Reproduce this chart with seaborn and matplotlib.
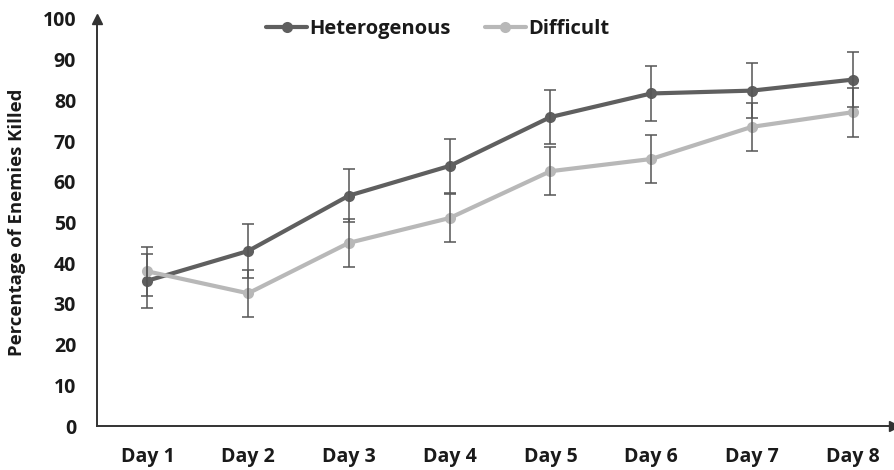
import matplotlib
matplotlib.use("Agg")
import matplotlib.pyplot as plt
import numpy as np
import pandas as pd
import seaborn as sns


days = ["Day 1", "Day 2", "Day 3", "Day 4", "Day 5", "Day 6", "Day 7", "Day 8"]
hetero = [35.7, 43.0, 56.6, 63.9, 75.9, 81.7, 82.4, 85.1]
hetero_err = [6.6, 6.6, 6.6, 6.6, 6.7, 6.7, 6.7, 6.7]
difficult = [38.0, 32.6, 45.0, 51.1, 62.6, 65.6, 73.5, 77.1]
difficult_err = [6.0, 5.8, 5.9, 5.9, 5.9, 5.8, 5.9, 6.0]
series_names = ["Heterogenous", "Difficult"]
colors = {"Heterogenous": "#5f5f5f", "Difficult": "#b8b8b8"}


def main():
    pos = np.arange(len(days))
    df = pd.concat([
        pd.DataFrame({"pos": pos, "value": hetero, "err": hetero_err, "group": series_names[0]}),
        pd.DataFrame({"pos": pos, "value": difficult, "err": difficult_err, "group": series_names[1]}),
    ])

    sns.set_theme(style="white")
    plt.rcParams["font.family"] = ["Open Sans", "DejaVu Sans"]
    plt.rcParams["font.weight"] = "bold"

    fig = plt.figure(figsize=(8.94, 4.70), dpi=100)
    ax = fig.add_axes([0.1085, 0.0936, 0.8915, 0.866])

    sns.lineplot(
        data=df, x="pos", y="value", hue="group", hue_order=series_names,
        palette=colors, marker="o", markersize=8, markeredgewidth=0,
        linewidth=3, ax=ax, errorbar=None,
    )
    for name in series_names:
        sub = df[df["group"] == name]
        ax.errorbar(sub["pos"], sub["value"], yerr=sub["err"], fmt="none",
                    ecolor="#555555", elinewidth=1.1, capsize=4, capthick=1.1, zorder=5)

    ax.set_xlim(-0.5, 7.41)
    ax.set_ylim(0, 100)
    ax.set_xticks(pos)
    ax.set_xticklabels(days)
    ax.set_yticks(range(0, 101, 10))
    ax.tick_params(axis="both", length=0, labelsize=14, colors="#1a1a1a")
    ax.tick_params(axis="y", pad=15)
    ax.tick_params(axis="x", pad=15)
    for lab in ax.get_xticklabels() + ax.get_yticklabels():
        lab.set_fontweight("bold")
    ax.set_xlabel("")
    ax.set_ylabel("Percentage of Enemies Killed", fontsize=13.3, fontweight="bold",
                  color="#1a1a1a", labelpad=12)

    for side in ["top", "right"]:
        ax.spines[side].set_visible(False)
    for side in ["left", "bottom"]:
        ax.spines[side].set_color("#333333")
        ax.spines[side].set_linewidth(1.4)
    ax.plot(0, 1, "^", color="#333333", markersize=7, transform=ax.transAxes, clip_on=False)
    ax.plot(1, 0, ">", color="#333333", markersize=7, transform=ax.transAxes, clip_on=False)

    leg = ax.legend(loc="center", bbox_to_anchor=(0.428, 0.975), ncol=2, frameon=False,
                    fontsize=14.5, handlelength=2.0, columnspacing=1.7, handletextpad=0.15)
    for t in leg.get_texts():
        t.set_fontweight("bold")
        t.set_color("#1a1a1a")

    fig.savefig("out.png", dpi=100)
    plt.close(fig)


if __name__ == "__main__":
    main()
